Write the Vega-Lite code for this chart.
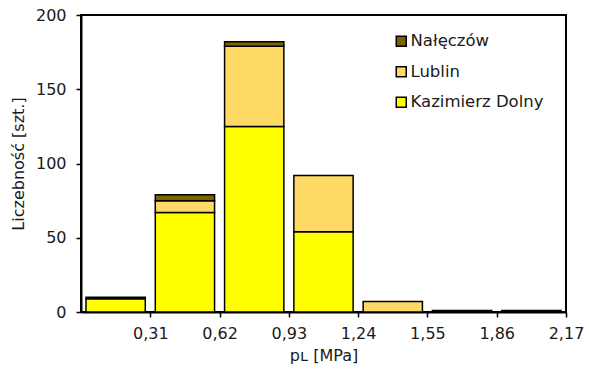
{
  "$schema": "https://vega.github.io/schema/vega-lite/v6.json",
  "width": 485,
  "height": 297,
  "autosize": {"type": "none"},
  "padding": {"left": 81, "top": 15, "right": 23, "bottom": 59},
  "background": "white",
  "config": {
    "font": "DejaVu Sans",
    "view": {"stroke": "black", "strokeWidth": 2},
    "axis": {"labelFont": "DejaVu Sans", "titleFont": "DejaVu Sans", "labelFontSize": 16, "titleFontSize": 16, "titleFontWeight": "normal", "labelColor": "#1a1a1a", "titleColor": "#1a1a1a", "domainColor": "black", "domainWidth": 2, "tickColor": "black", "tickWidth": 1.5, "tickSize": 5, "grid": false}
  },
  "data": {
    "values": [
      {"lo": 0.0, "hi": 0.31, "site": "Kazimierz Dolny", "ord": 1, "n": 9},
      {"lo": 0.0, "hi": 0.31, "site": "Lublin", "ord": 2, "n": 0},
      {"lo": 0.0, "hi": 0.31, "site": "Nałęczów", "ord": 3, "n": 1},
      {"lo": 0.31, "hi": 0.62, "site": "Kazimierz Dolny", "ord": 1, "n": 67},
      {"lo": 0.31, "hi": 0.62, "site": "Lublin", "ord": 2, "n": 8},
      {"lo": 0.31, "hi": 0.62, "site": "Nałęczów", "ord": 3, "n": 4},
      {"lo": 0.62, "hi": 0.93, "site": "Kazimierz Dolny", "ord": 1, "n": 125},
      {"lo": 0.62, "hi": 0.93, "site": "Lublin", "ord": 2, "n": 54},
      {"lo": 0.62, "hi": 0.93, "site": "Nałęczów", "ord": 3, "n": 3},
      {"lo": 0.93, "hi": 1.24, "site": "Kazimierz Dolny", "ord": 1, "n": 54},
      {"lo": 0.93, "hi": 1.24, "site": "Lublin", "ord": 2, "n": 38},
      {"lo": 0.93, "hi": 1.24, "site": "Nałęczów", "ord": 3, "n": 0},
      {"lo": 1.24, "hi": 1.55, "site": "Kazimierz Dolny", "ord": 1, "n": 0},
      {"lo": 1.24, "hi": 1.55, "site": "Lublin", "ord": 2, "n": 7},
      {"lo": 1.24, "hi": 1.55, "site": "Nałęczów", "ord": 3, "n": 0},
      {"lo": 1.55, "hi": 1.86, "site": "Kazimierz Dolny", "ord": 1, "n": 0},
      {"lo": 1.55, "hi": 1.86, "site": "Lublin", "ord": 2, "n": 0},
      {"lo": 1.55, "hi": 1.86, "site": "Nałęczów", "ord": 3, "n": 1},
      {"lo": 1.86, "hi": 2.17, "site": "Kazimierz Dolny", "ord": 1, "n": 0},
      {"lo": 1.86, "hi": 2.17, "site": "Lublin", "ord": 2, "n": 0},
      {"lo": 1.86, "hi": 2.17, "site": "Nałęczów", "ord": 3, "n": 1}
    ]
  },
  "transform": [
    {"filter": "datum.n > 0"},
    {"stack": "n", "groupby": ["lo"], "sort": [{"field": "ord", "order": "ascending"}], "as": ["y0", "y1"]}
  ],
  "mark": {"type": "bar", "stroke": "black", "strokeWidth": 1.5, "xOffset": 5, "x2Offset": -5},
  "encoding": {
    "x": {
      "field": "lo", "type": "quantitative",
      "scale": {"domain": [0, 2.17], "nice": false, "zero": false},
      "axis": {"values": [0.31, 0.62, 0.93, 1.24, 1.55, 1.86, 2.17], "labelExpr": "replace(format(datum.value, '.2f'), '.', ',')", "title": "pʟ [MPa]", "titlePadding": 6, "labelPadding": 8, "labelFlush": false}
    },
    "x2": {"field": "hi"},
    "y": {
      "field": "y0", "type": "quantitative",
      "scale": {"domain": [0, 200], "nice": false},
      "axis": {"values": [0, 50, 100, 150, 200], "title": "Liczebność [szt.]", "titlePadding": 9, "labelPadding": 10}
    },
    "y2": {"field": "y1"},
    "color": {
      "field": "site", "type": "nominal",
      "scale": {"domain": ["Nałęczów", "Lublin", "Kazimierz Dolny"], "range": ["#7F6000", "#FFD966", "#FFFF00"]},
      "legend": {"title": null, "orient": "none", "legendX": 312, "legendY": 18, "symbolType": "square", "symbolSize": 100, "symbolStrokeColor": "black", "symbolStrokeWidth": 1.5, "labelFontSize": 16.5, "labelFont": "DejaVu Sans", "labelColor": "#1a1a1a", "rowPadding": 13.5, "labelOffset": 1}
    }
  }
}
